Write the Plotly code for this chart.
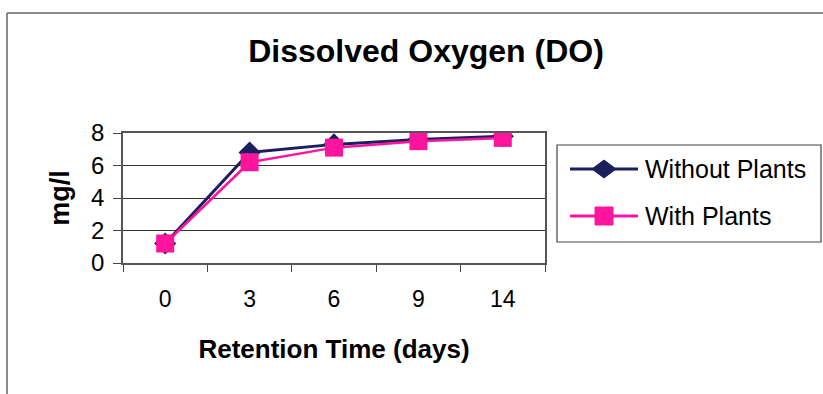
import plotly.graph_objects as go

# Retention time categories (days) and dissolved oxygen readings (mg/l)
days = ["0", "3", "6", "9", "14"]
without_plants = [1.2, 6.8, 7.3, 7.6, 7.8]
with_plants = [1.2, 6.2, 7.1, 7.5, 7.7]
y_ticks = [0, 2, 4, 6, 8]

FONT = "Liberation Sans, Arial, sans-serif"
NAVY = "#1c1f5e"
PINK = "#ff149e"

# Plot area in pixels (used to place the frame and the key in paper units)
L, R, T, B = 123, 545, 133, 263
W, H = 823, 394


def px(x):
    return (x - L) / (R - L)


def py(y):
    return (B - y) / (B - T)


fig = go.Figure()
fig.add_trace(go.Scatter(
    x=days, y=without_plants, name="Without Plants", mode="lines+markers",
    line=dict(color=NAVY, width=3),
    marker=dict(symbol="diamond", size=17, color=NAVY),
    showlegend=False,
))
fig.add_trace(go.Scatter(
    x=days, y=with_plants, name="With Plants", mode="lines+markers",
    line=dict(color=PINK, width=2.5),
    marker=dict(symbol="square", size=18, color=PINK),
    showlegend=False,
))

fig.update_layout(
    width=W, height=H,
    margin=dict(l=L, r=W - R, t=T, b=H - B),
    paper_bgcolor="white", plot_bgcolor="white",
    font=dict(family=FONT, color="black"),
    title=dict(text="<b>Dissolved Oxygen (DO)</b>", xref="container", x=426 / W,
               xanchor="center", yref="container", y=1 - 51 / H, yanchor="middle",
               font=dict(size=32, family=FONT)),
)

fig.update_xaxes(
    type="category", range=[-0.5, len(days) - 0.5],
    tickson="boundaries", ticks="outside", ticklen=7,
    tickcolor="#444", showline=True, linecolor="#555", linewidth=1.5,
    mirror=True, showgrid=False, tickfont=dict(size=23, family=FONT),
    ticklabelstandoff=15,
    title=dict(text="<b>Retention Time (days)</b>", font=dict(size=26, family=FONT),
               standoff=28),
)
fig.update_yaxes(
    range=[0, 8], tickvals=y_ticks, ticks="outside", ticklen=8,
    tickcolor="#444", showline=True, linecolor="#555", linewidth=1.5,
    mirror=True, showgrid=True, gridcolor="#333", gridwidth=1,
    tickfont=dict(size=24, family=FONT), zeroline=False, ticklabelstandoff=4,
    title=dict(text="<b>mg/l</b>", font=dict(size=27, family=FONT), standoff=14),
)

# Outer chart-area frame
fig.add_shape(type="line", xref="paper", yref="paper",
              x0=px(7), x1=px(823), y0=py(13), y1=py(13),
              line=dict(color="#666", width=1.5))
fig.add_shape(type="line", xref="paper", yref="paper",
              x0=px(7), x1=px(7), y0=py(13), y1=py(394),
              line=dict(color="#666", width=1.5))

# Key box with line-and-marker samples
fig.add_shape(type="rect", xref="paper", yref="paper",
              x0=px(557), x1=px(821), y0=py(145), y1=py(242),
              line=dict(color="#444", width=1.2), fillcolor="white")

key = [("Without Plants", NAVY, 169, "diamond"), ("With Plants", PINK, 216, "square")]
for label, color, yc, sym in key:
    fig.add_shape(type="line", xref="paper", yref="paper",
                  x0=px(570), x1=px(638), y0=py(yc), y1=py(yc),
                  line=dict(color=color, width=3))
    if sym == "diamond":
        path = (f"M {px(592)},{py(yc)} L {px(604)},{py(yc - 9)} "
                f"L {px(616)},{py(yc)} L {px(604)},{py(yc + 9)} Z")
        fig.add_shape(type="path", xref="paper", yref="paper", path=path,
                      fillcolor=color, line=dict(color=color, width=1))
    else:
        fig.add_shape(type="rect", xref="paper", yref="paper",
                      x0=px(595), x1=px(613), y0=py(yc - 9), y1=py(yc + 9),
                      fillcolor=color, line=dict(color=color, width=1))
    fig.add_annotation(xref="paper", yref="paper", x=px(643), y=py(yc),
                       xanchor="left", yanchor="middle", showarrow=False,
                       text=label, font=dict(size=25, family=FONT, color="black"))

fig.write_html("out.html")
